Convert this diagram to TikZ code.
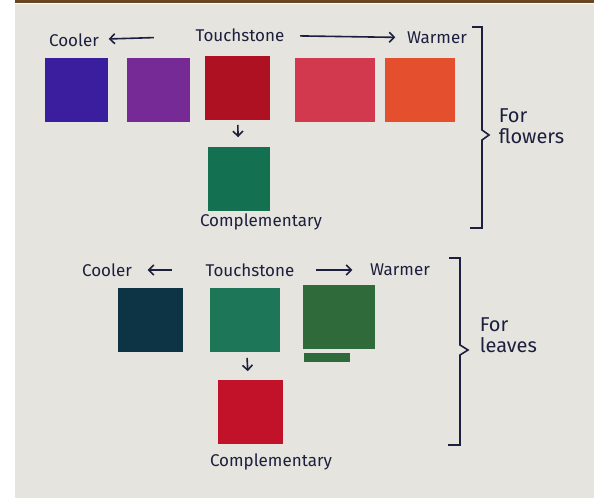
\documentclass[tikz,border=0pt]{standalone}
\usepackage{fontspec}
\setmainfont{Fira Sans}
\usepackage{tikz}
\usetikzlibrary{arrows.meta}
\definecolor{paper}{HTML}{E6E4DE}
\definecolor{pen}{HTML}{1C1F3D}
\definecolor{blueviolet}{HTML}{3A1E9E}
\definecolor{violet}{HTML}{762A96}
\definecolor{crimson}{HTML}{AE1222}
\definecolor{rose}{HTML}{D2384E}
\definecolor{orng}{HTML}{E4502E}
\definecolor{emerald}{HTML}{137050}
\definecolor{teal}{HTML}{0C3444}
\definecolor{leaf}{HTML}{1E7658}
\definecolor{moss}{HTML}{2F6B3A}
\definecolor{scarlet}{HTML}{C1122A}

\begin{document}
\begin{tikzpicture}[x=1pt, y=-1pt, line width=1.6pt,
  lbl/.style={text=pen, font=\fontsize{17}{17}\selectfont, inner sep=1pt},
  side/.style={text=pen, font=\fontsize{20}{21}\selectfont, inner sep=1pt},
  swatch/.style={minimum width=#1, minimum height=64pt, inner sep=0pt},
  arr/.style={pen, -{Straight Barb[length=5pt, width=10pt]}}]
  \useasboundingbox (0,0) rectangle (594,498);
  \fill[white] (0,0) rectangle (594,498);
  \fill[paper] (15,4) rectangle (594,498);
  \fill[brown!55!black] (15,0) rectangle (594,3);

  % flowers
  \node[lbl] (A) at (240,35) {Touchstone};
  \node[lbl] (B) at (74,40) {Cooler};
  \node[lbl] (C) at (437,38) {Warmer};
  \draw[arr, shorten <=40pt, shorten >=8pt] (A) to (B);
  \draw[arr, shorten <=14pt, shorten >=10pt] (A) to (C);

  \node[swatch=63pt, fill=blueviolet] (D) at (76,90) {};
  \node[swatch=63pt, fill=violet] (E) at (158,90) {};
  \node[swatch=65pt, fill=crimson] (F) at (237,88) {};
  \node[swatch=80pt, fill=rose] (G) at (335,90) {};
  \node[swatch=70pt, fill=orng] (H) at (420,90) {};

  \node[swatch=62pt, fill=emerald] (I) at (239,179) {};
  \draw[arr, shorten <=4pt, shorten >=9pt] (F) to (I);
  \node[lbl] (J) at (261,222) {Complementary};

  \draw[pen] (472,27) -- (482,27) -- (482,130) -- (489,135) -- (482,140) -- (482,228) -- (470,228);
  \node[side, anchor=west, align=left] (K) at (497,126) {For\\flowers};

  % leaves
  \node[lbl] (L) at (250,270) {Touchstone};
  \node[lbl] (M) at (107,270) {Cooler};
  \node[lbl] (N) at (400,270) {Warmer};
  \draw[arr, shorten <=32pt, shorten >=14pt] (L) to (M);
  \draw[arr, shorten <=20pt, shorten >=16pt] (L) to (N);

  \node[swatch=65pt, fill=teal] (O) at (150,320) {};
  \node[swatch=70pt, fill=leaf] (P) at (245,320) {};
  \node[swatch=72pt, fill=moss] (Q) at (339,317) {};
  \fill[moss] (304,353) rectangle (350,362);

  \node[swatch=65pt, fill=scarlet] (R) at (250,412) {};
  \draw[arr, shorten <=5pt, shorten >=8pt] (P) to (R);
  \node[lbl] (S) at (271,462) {Complementary};

  \draw[pen] (449,258) -- (460,258) -- (460,345) -- (468,350) -- (460,355) -- (460,445) -- (448,445);
  \node[side, anchor=west, align=left] (T) at (478,335) {For\\leaves};
\end{tikzpicture}
\end{document}
